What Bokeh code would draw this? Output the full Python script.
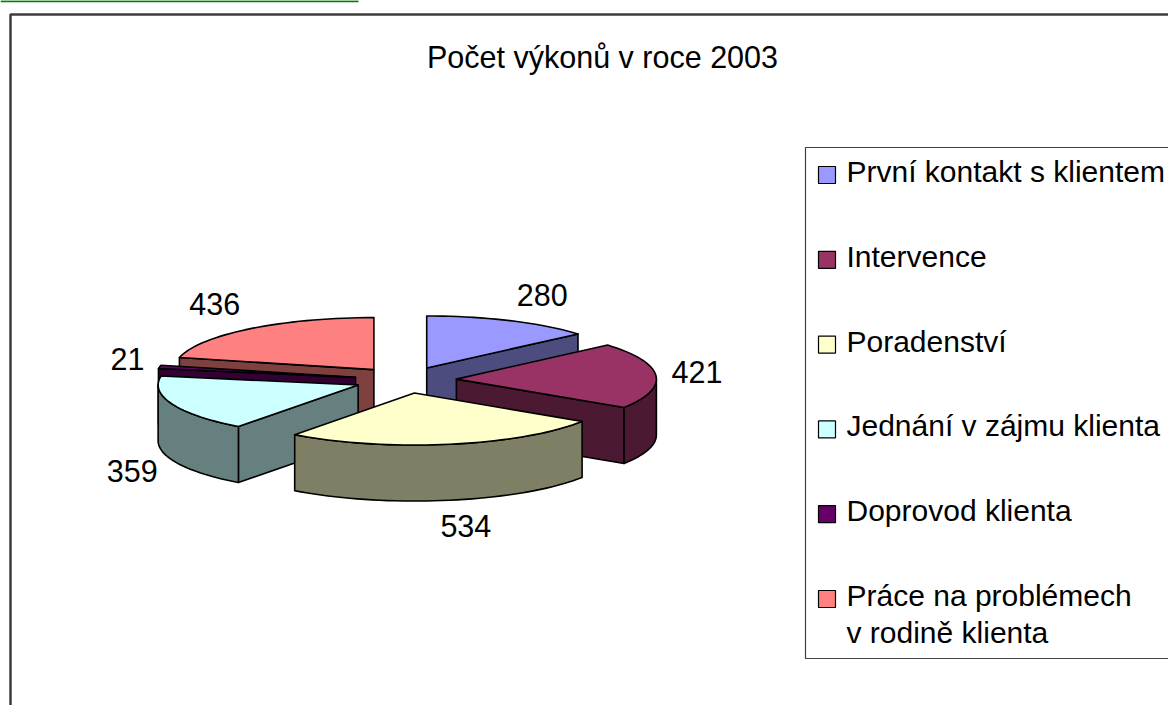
import numpy as np
from bokeh.plotting import figure
from bokeh.models import Range1d
from bokeh.embed import file_html
from bokeh.resources import INLINE
from bokeh.core.properties import value

# ---------------- data ----------------
chart_title = "Počet výkonů v roce 2003"
categories = [
    "První kontakt s klientem",
    "Intervence",
    "Poradenství",
    "Jednání v zájmu klienta",
    "Doprovod klienta",
    "Práce na problémech\nv rodině klienta",
]
values = [280, 421, 534, 359, 21, 436]
colors = ["#9999FF", "#993366", "#FFFFCC", "#CCFFFF", "#660066", "#FF8080"]

# ---------------- layout / style ----------------
W, H = 1168, 705
FONT = value("Liberation Sans")
FS = value("30px")
TSHIFT = -12.0             # baseline correction for svg text
CX, CY = 405.0, 379.5      # pie centre (screen pixel space)
RX, RY = 200.0, 52.0       # ellipse radii
DEPTH = 56.0               # pie thickness
EXPLODE = 51.0             # explosion distance

p = figure(width=W, height=H, x_range=Range1d(0, W), y_range=Range1d(H, 0),
           output_backend="svg", toolbar_location=None, min_border=0,
           x_axis_location=None, y_axis_location=None)
p.grid.visible = False
p.outline_line_color = None
p.background_fill_color = "white"
p.border_fill_color = "white"

# green rule at the very top
p.line(x=[0, 358], y=[0.8, 0.8], line_color="#008000", line_width=2)

# chart frame
p.quad(left=[10], right=[1300], top=[14], bottom=[800], fill_color=None,
       line_color="#3c3c3c", line_width=2.5)

# title
p.text(x=[602], y=[68 + TSHIFT], text=[chart_title], text_font=FONT,
       text_font_size=value("30.5px"),
       text_align="center", text_baseline="alphabetic", text_color="black")


def darken(hexc, f=0.5):
    h = hexc.lstrip("#")
    r, g, b = (int(h[i:i + 2], 16) for i in (0, 2, 4))
    return "#%02x%02x%02x" % (int(r * f), int(g * f), int(b * f))


vals = np.array(values, dtype=float)
ends = np.cumsum(vals) / vals.sum() * 2 * np.pi
starts = np.concatenate([[0.0], ends[:-1]])
mids = (starts + ends) / 2

k = RY / RX
apx = CX + EXPLODE * np.sin(mids)
apy = CY - EXPLODE * k * np.cos(mids)


def arc(i, t0, t1, dz=0.0, n=80):
    t = np.linspace(t0, t1, max(2, int(n * (t1 - t0) / np.pi) + 2))
    return list(apx[i] + RX * np.sin(t)), list(apy[i] - RY * np.cos(t) + dz)


xs, ys, fills = [], [], []
order = np.argsort(-np.cos(mids))   # back to front
for i in order:
    s, e = starts[i], ends[i]
    side = darken(colors[i])
    if np.sin(s) < -1e-9:
        ox, oy = apx[i] + RX * np.sin(s), apy[i] - RY * np.cos(s)
        xs.append([apx[i], ox, ox, apx[i]])
        ys.append([apy[i], oy, oy + DEPTH, apy[i] + DEPTH])
        fills.append(side)
    if np.sin(e) > 1e-9:
        ox, oy = apx[i] + RX * np.sin(e), apy[i] - RY * np.cos(e)
        xs.append([apx[i], ox, ox, apx[i]])
        ys.append([apy[i], oy, oy + DEPTH, apy[i] + DEPTH])
        fills.append(side)
    a0, a1 = max(s, np.pi / 2), min(e, 3 * np.pi / 2)
    if a1 > a0:
        tx, ty = arc(i, a0, a1)
        bx, by = arc(i, a0, a1, DEPTH)
        xs.append(tx + bx[::-1])
        ys.append(ty + by[::-1])
        fills.append(side)
    tx, ty = arc(i, s, e)
    xs.append([apx[i]] + tx)
    ys.append([apy[i]] + ty)
    fills.append(colors[i])

p.patches(xs=xs, ys=ys, fill_color=fills, line_color="black", line_width=1.6,
          line_join="round")

# data labels
lx, ly, lt = [], [], []
for i, v in enumerate(values):
    sn, cs = np.sin(mids[i]), np.cos(mids[i])
    ox = apx[i] + RX * sn
    oy = apy[i] - RY * cs + (DEPTH if cs < 0 else 0.0)
    txt = str(v)
    hw = 8.7 * len(txt)
    hh = 11.5
    g = 15.0
    cx_ = ox + hw * np.clip(3 * sn, -1, 1) + g * sn
    cy_ = oy - hh * np.clip(1.5 * cs, -1, 1) - g * cs
    lx.append(cx_)
    ly.append(cy_ + 11 + TSHIFT)
    lt.append(txt)
p.text(x=lx, y=ly, text=lt, text_font=FONT, text_font_size=value("30.5px"),
       text_align="center", text_baseline="alphabetic", text_color="black")

# legend
p.quad(left=[805], right=[1300], top=[147], bottom=[658], fill_color="white",
       line_color="#404040", line_width=1.2)
row0, dy_row, line_h = 183.0, 84.8, 37.0
sw_l, sw_t, sw_b, sw_r, tx_x, tx_y = [], [], [], [], [], []
tt = []
for i, cat in enumerate(categories):
    base = row0 + i * dy_row
    sw_l.append(818); sw_r.append(835); sw_t.append(base - 17); sw_b.append(base)
    for j, line in enumerate(cat.split("\n")):
        tx_x.append(846); tx_y.append(base + j * line_h + TSHIFT); tt.append(line)
p.quad(left=sw_l, right=sw_r, top=sw_t, bottom=sw_b, fill_color=colors,
       line_color="black", line_width=1.2)
p.text(x=tx_x, y=tx_y, text=tt, text_font=FONT, text_font_size=FS,
       text_align="left", text_baseline="alphabetic", text_color="black")

open("out.html", "w").write(file_html(p, INLINE))
